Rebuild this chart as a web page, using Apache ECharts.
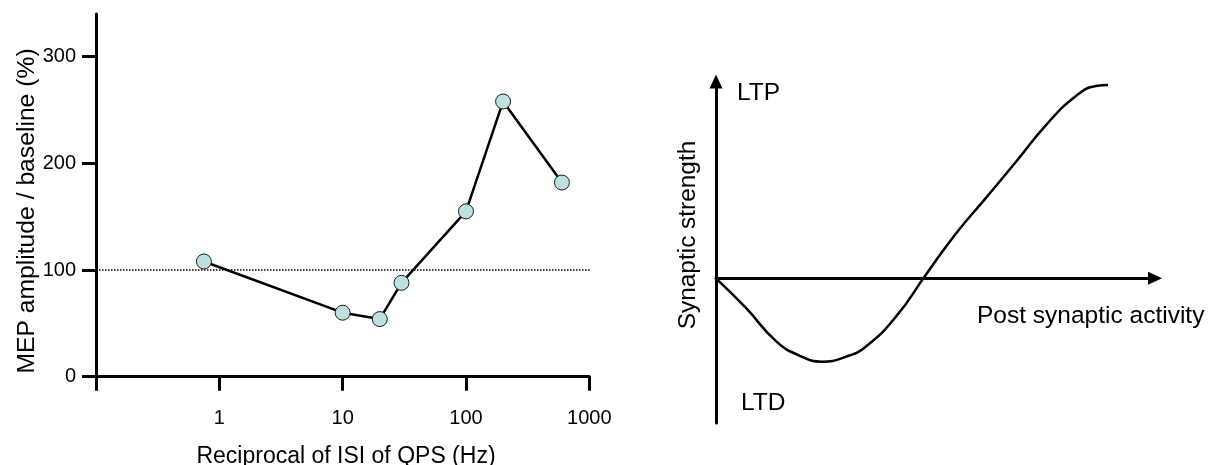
<!DOCTYPE html>
<html>
<head>
<meta charset="utf-8">
<script src="https://cdn.jsdelivr.net/npm/echarts@6/dist/echarts.min.js"></script>
<style>
  html, body { margin: 0; padding: 0; background: #ffffff; }
  #chart { width: 1208px; height: 465px; }
</style>
</head>
<body>
<div id="chart"></div>
<script>
// ---- Left panel data: MEP amplitude vs QPS frequency ----
const qpsFrequencyHz = [0.75, 10, 20, 30, 100, 200, 600];
const mepPercent = [108, 60, 54, 88, 155, 258, 182];
const baselineLevel = 100;
const baselineSpanHz = [0.1, 1130];
const leftYTicks = [0, 100, 200, 300];
const leftXTicks = [1, 10, 100, 1000];

// ---- Right panel data: BCM-like curve ----
const activityX = [0, 6.83, 13.67, 19, 24.1, 29.5, 34.17, 41.0, 47.84, 54.67, 61.5, 68.34, 75.17, 82.0, 86.56, 89.29];
const strengthY = [0, -20.5, -43.4, -53.4, -57.6, -54.3, -47.1, -26.5, 2.6, 31, 55.6, 80.5, 105.9, 126, 132.9, 133.6];

const FONT = "'Liberation Sans', Arial, Helvetica, sans-serif";
const INK = '#000000';

const mepPairs = qpsFrequencyHz.map((f, i) => [f, mepPercent[i]]);
const baselinePairs = baselineSpanHz.map(f => [f, baselineLevel]);
const curvePairs = activityX.map((x, i) => [x, strengthY[i]]);

const chart = echarts.init(document.getElementById('chart'), null, { renderer: 'canvas' });

function label(text, x, y, size, align, rotation) {
  return {
    type: 'text', x: x, y: y, rotation: rotation || 0,
    style: { text: text, fill: INK, fontSize: size, fontFamily: FONT,
             align: align, verticalAlign: 'middle', textAlign: align, textVerticalAlign: 'middle' }
  };
}

const option = {
  backgroundColor: '#ffffff',
  animation: false,
  grid: [
    { left: 96, top: 14, width: 493.3, height: 362.7, containLabel: false },
    { left: 716, top: 81.5, width: 439, height: 341.5, containLabel: false }
  ],
  xAxis: [
    {
      gridIndex: 0, type: 'log', logBase: 10, min: 0.1, max: 1000,
      axisLine: { show: true, onZero: false, lineStyle: { color: INK, width: 3 } },
      axisTick: { show: true, inside: false, length: 14, lineStyle: { color: INK, width: 3 } },
      minorTick: { show: false },
      splitLine: { show: false },
      axisLabel: {
        show: true, margin: 32, color: INK, fontSize: 20, fontFamily: FONT,
        formatter: v => (leftXTicks.some(t => Math.abs(t - v) < 1e-6) ? String(Math.round(v)) : '')
      }
    },
    {
      gridIndex: 1, type: 'value', min: 0, max: 100,
      axisLine: { show: true, onZero: true, symbol: ['none', 'triangle'], symbolSize: [13, 14], lineStyle: { color: INK, width: 3 } },
      axisTick: { show: false }, axisLabel: { show: false }, splitLine: { show: false }
    }
  ],
  yAxis: [
    {
      gridIndex: 0, type: 'value', min: 0, max: 340,
      axisLine: { show: true, onZero: false, lineStyle: { color: INK, width: 3 } },
      axisTick: { show: true, inside: false, length: 14, customValues: leftYTicks, lineStyle: { color: INK, width: 3 } },
      splitLine: { show: false },
      axisLabel: { show: true, margin: 20, color: INK, fontSize: 20, fontFamily: FONT, customValues: leftYTicks }
    },
    {
      gridIndex: 1, type: 'value', min: -100, max: 136,
      axisLine: { show: true, onZero: true, symbol: ['none', 'triangle'], symbolSize: [13, 14], lineStyle: { color: INK, width: 3 } },
      axisTick: { show: false }, axisLabel: { show: false }, splitLine: { show: false }
    }
  ],
  series: [
    {
      name: 'Baseline', type: 'line', xAxisIndex: 0, yAxisIndex: 0,
      data: baselinePairs, showSymbol: false, symbol: 'none', clip: false, silent: true,
      lineStyle: { color: INK, width: 1.5, type: [1.5, 1.5] }, z: 1
    },
    {
      name: 'MEP', type: 'line', xAxisIndex: 0, yAxisIndex: 0,
      data: mepPairs, symbol: 'circle', symbolSize: 15, showSymbol: true,
      lineStyle: { color: INK, width: 2.5 },
      itemStyle: { color: '#bde0e0', borderColor: '#1a1a1a', borderWidth: 1 },
      z: 3
    },
    {
      name: 'Curve', type: 'line', xAxisIndex: 1, yAxisIndex: 1,
      data: curvePairs, showSymbol: false, symbol: 'none', smooth: 0.5,
      lineStyle: { color: INK, width: 2.5 }, z: 3
    }
  ],
  graphic: [
    label('MEP amplitude / baseline (%)', 27.5, 211, 24.7, 'center', Math.PI / 2),
    label('Reciprocal of ISI of QPS (Hz)', 346, 456.5, 23, 'center'),
    label('Synaptic strength', 688.5, 235, 24.4, 'center', Math.PI / 2),
    label('LTP', 737, 93, 24.5, 'left'),
    label('LTD', 741, 403, 24.5, 'left'),
    label('Post synaptic activity', 977, 316, 24.5, 'left')
  ]
};

chart.setOption(option);
</script>
</body>
</html>
